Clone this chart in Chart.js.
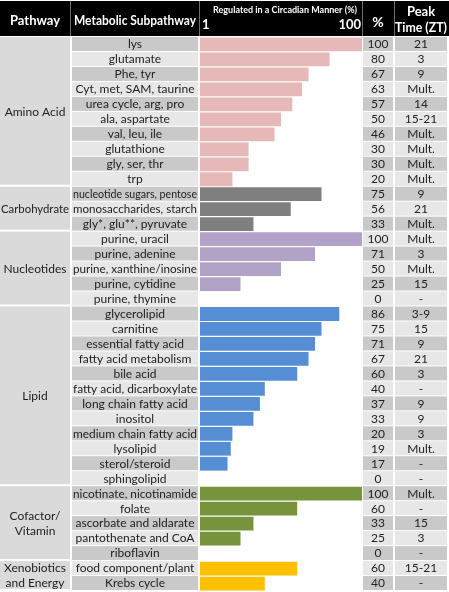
<!DOCTYPE html>
<html>
<head>
<meta charset="utf-8">
<script src="https://cdn.jsdelivr.net/npm/chart.js@4"></script>
<style>
  html, body { margin: 0; padding: 0; background: #fff; }
  canvas { display: block; }
</style>
</head>
<body>
<canvas id="circadianChart" width="449" height="592"></canvas>
<script>
// table rows, top to bottom
const subpathways = [
  'lys', 'glutamate', 'Phe, tyr', 'Cyt, met, SAM, taurine', 'urea cycle, arg, pro',
  'ala, aspartate', 'val, leu, ile', 'glutathione', 'gly, ser, thr', 'trp',
  'nucleotide sugars, pentose', 'monosaccharides, starch', 'gly*, glu**, pyruvate',
  'purine, uracil', 'purine, adenine', 'purine, xanthine/inosine', 'purine, cytidine', 'purine, thymine',
  'glycerolipid', 'carnitine', 'essential fatty acid', 'fatty acid metabolism', 'bile acid',
  'fatty acid, dicarboxylate', 'long chain fatty acid', 'inositol', 'medium chain fatty acid',
  'lysolipid', 'sterol/steroid', 'sphingolipid',
  'nicotinate, nicotinamide', 'folate', 'ascorbate and aldarate', 'pantothenate and CoA', 'riboflavin',
  'food component/plant', 'Krebs cycle'
];
const regulatedPct = [
  100, 80, 67, 63, 57, 50, 46, 30, 30, 20,
  75, 56, 33,
  100, 71, 50, 25, 0,
  86, 75, 71, 67, 60, 40, 37, 33, 20, 19, 17, 0,
  100, 60, 33, 25, 0,
  60, 40
];
const peakTimes = [
  '21', '3', '9', 'Mult.', '14', '15-21', 'Mult.', 'Mult.', 'Mult.', 'Mult.',
  '9', '21', 'Mult.',
  'Mult.', '3', 'Mult.', '15', '-',
  '3-9', '15', '9', '21', '3', '-', '9', '9', '3', 'Mult.', '-', '-',
  'Mult.', '-', '15', '3', '-',
  '15-21', '-'
];
const pathways = ['Amino Acid', 'Carbohydrate', 'Nucleotides', 'Lipid', 'Cofactor/\nVitamin', 'Xenobiotics\nand Energy'];
const pathwaySizes = [10, 3, 5, 12, 5, 2];
const pathwayColors = ['#e6b9b8', '#7f7f7f', '#b3a2c7', '#558ed5', '#77933c', '#ffc000'];

// one colour per row from its pathway
const barColors = [];
pathwaySizes.forEach((n, g) => { for (let k = 0; k < n; k++) barColors.push(pathwayColors[g]); });

const FONT = 'Lato, "Open Sans", sans-serif';
const cols = {
  path: [0, 70],
  sub: [72, 198],
  pct: [363, 393],
  peak: [395, 447]
};

const tablePlugin = {
  id: 'tablePlugin',
  beforeDraw(chart) {
    const ctx = chart.ctx;
    const area = chart.chartArea;
    const y = chart.scales.y;
    const h = (area.bottom - area.top) / subpathways.length;
    ctx.save();
    ctx.fillStyle = '#fff';
    ctx.fillRect(0, 0, chart.width, chart.height);

    // header band
    ctx.fillStyle = '#000';
    ctx.fillRect(0, 1, chart.width, area.top - 2);
    ctx.fillStyle = '#6e6e6e';
    [70, 199, 362, 394].forEach(x => ctx.fillRect(x, 1, 1, area.top - 2));

    // row cells
    subpathways.forEach((s, i) => {
      const top = y.getPixelForValue(i) - h / 2;
      ctx.fillStyle = i % 2 === 0 ? '#c9c9c9' : '#e7e7e7';
      [cols.sub, cols.pct, cols.peak].forEach(c => ctx.fillRect(c[0], top, c[1] - c[0], h - 1));
    });

    // pathway cells
    let start = 0;
    pathwaySizes.forEach(n => {
      const top = y.getPixelForValue(start) - h / 2;
      const bot = y.getPixelForValue(start + n - 1) + h / 2;
      ctx.fillStyle = '#dadada';
      ctx.fillRect(cols.path[0], top, cols.path[1] - cols.path[0], bot - top - 2);
      start += n;
    });
    ctx.restore();
  },
  afterDraw(chart) {
    const ctx = chart.ctx;
    const area = chart.chartArea;
    const y = chart.scales.y;
    const h = (area.bottom - area.top) / subpathways.length;
    ctx.save();
    ctx.textBaseline = 'middle';
    ctx.textAlign = 'center';

    // header text
    ctx.fillStyle = '#fff';
    ctx.font = 'bold 13px ' + FONT;
    ctx.fillText('Pathway', 35, 21, 66);
    ctx.fillText('Metabolic Subpathway', 135, 21, 122);
    ctx.font = 'bold 14px ' + FONT;
    ctx.fillText('%', 378, 22);
    ctx.font = 'bold 13px ' + FONT;
    ctx.fillText('Peak', 421, 12);
    ctx.fillText('Time (ZT)', 421, 28, 52);
    ctx.font = 'bold 9px ' + FONT;
    ctx.fillText('Regulated in a Circadian Manner (%)', 285, 10, 152);
    ctx.font = 'bold 13px ' + FONT;
    ctx.textAlign = 'left';
    ctx.fillText('1', area.left + 2, 25);
    ctx.textAlign = 'right';
    ctx.fillText('100', area.right - 1, 25);

    // body text
    ctx.textAlign = 'center';
    ctx.fillStyle = '#222';
    ctx.font = '12px ' + FONT;
    subpathways.forEach((s, i) => {
      const cy = y.getPixelForValue(i);
      ctx.fillText(s, (cols.sub[0] + cols.sub[1]) / 2, cy, cols.sub[1] - cols.sub[0] - 2);
      ctx.fillText(String(regulatedPct[i]), (cols.pct[0] + cols.pct[1]) / 2, cy);
      ctx.fillText(peakTimes[i], (cols.peak[0] + cols.peak[1]) / 2, cy);
    });

    let start = 0;
    pathwaySizes.forEach((n, g) => {
      const mid = (y.getPixelForValue(start) + y.getPixelForValue(start + n - 1)) / 2;
      const lines = pathways[g].split('\n');
      lines.forEach((ln, k) => {
        ctx.fillText(ln, 35, mid + (k - (lines.length - 1) / 2) * h, 68);
      });
      start += n;
    });
    ctx.restore();
  }
};

new Chart(document.getElementById('circadianChart'), {
  type: 'bar',
  data: {
    labels: subpathways,
    datasets: [{
      label: 'Regulated in a Circadian Manner (%)',
      data: regulatedPct,
      backgroundColor: barColors,
      borderWidth: 0,
      categoryPercentage: 1,
      barPercentage: 0.92
    }]
  },
  options: {
    indexAxis: 'y',
    responsive: false,
    devicePixelRatio: 1,
    animation: false,
    layout: { padding: { left: 200, right: 87, top: 37, bottom: 1 } },
    scales: {
      x: { display: false, min: 0, max: 100 },
      y: { display: false }
    },
    plugins: {
      legend: { display: false },
      tooltip: { enabled: false }
    }
  },
  plugins: [tablePlugin]
});
</script>
</body>
</html>
